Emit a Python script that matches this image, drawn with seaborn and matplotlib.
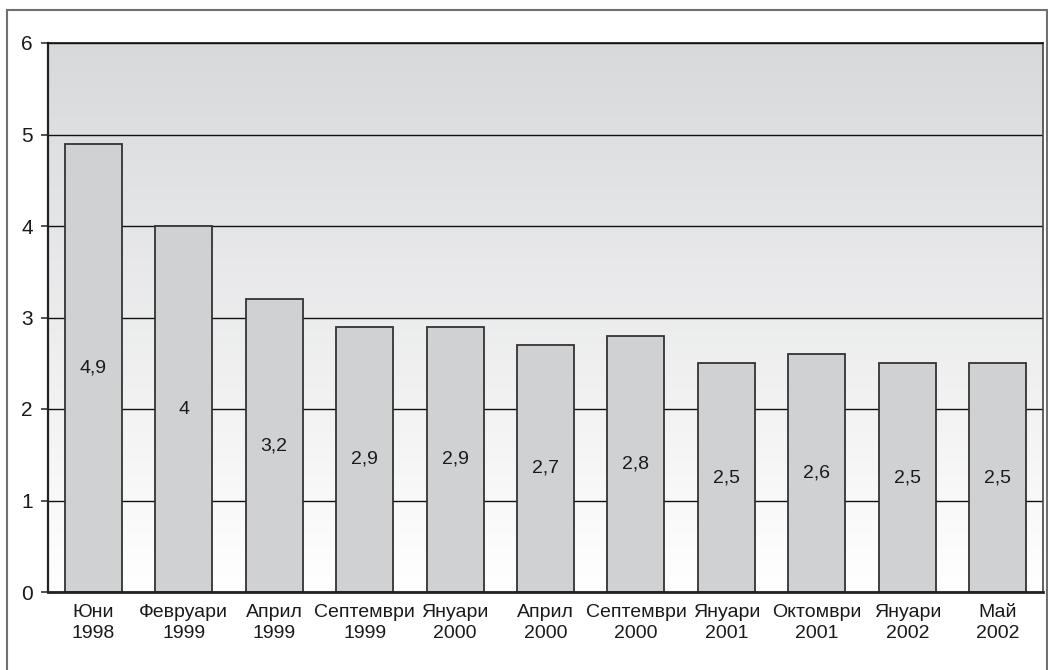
import numpy as np
import matplotlib
matplotlib.use("Agg")
import matplotlib.pyplot as plt
from matplotlib.patches import Rectangle
import seaborn as sns

# Survey periods and measured values
months = ["Юни", "Февруари", "Април", "Септември", "Януари", "Април",
          "Септември", "Януари", "Октомври", "Януари", "Май"]
years = ["1998", "1999", "1999", "1999", "2000", "2000",
         "2000", "2001", "2001", "2002", "2002"]
values = [4.9, 4.0, 3.2, 2.9, 2.9, 2.7, 2.8, 2.5, 2.6, 2.5, 2.5]
value_labels = ["4,9", "4", "3,2", "2,9", "2,9", "2,7", "2,8", "2,5", "2,6", "2,5", "2,5"]
yticks = [0, 1, 2, 3, 4, 5, 6]

categories = [f"{m}\n{y}" for m, y in zip(months, years)]

sns.set_style("white")
plt.rcParams["font.family"] = ["Liberation Sans", "DejaVu Sans"]

fig = plt.figure(figsize=(10.48, 6.70), dpi=100)
ax = fig.add_axes([48 / 1048, 1 - 592 / 670, (1043 - 48) / 1048, (592 - 43) / 670])

# Vertical grey-to-white gradient behind the plot
grad = np.linspace(0, 1, 256).reshape(-1, 1)
ax.imshow(grad, extent=[-0.5, len(values) - 0.5, 0, 6], aspect="auto",
          cmap=matplotlib.colors.LinearSegmentedColormap.from_list(
              "bg", ["#ffffff", "#d8d9db"]),
          origin="lower", zorder=0, interpolation="bilinear")

sns.barplot(x=categories, y=values, color="#d0d1d3", edgecolor="#333333",
            linewidth=1.3, width=0.63, saturation=1, ax=ax, zorder=2)

for i, (v, lab) in enumerate(zip(values, value_labels)):
    ax.text(i, v / 2, lab, ha="center", va="center", fontsize=14, color="#1a1a1a", zorder=3)

ax.set_xlim(-0.5, len(values) - 0.5)
ax.set_ylim(0, 6)
ax.set_yticks(yticks)
ax.set_yticklabels([str(t) for t in yticks])
ax.yaxis.grid(True, color="#111111", linewidth=1.0, zorder=1)
ax.set_axisbelow(True)
ax.set_xlabel("")
ax.set_ylabel("")

ax.tick_params(axis="y", which="both", left=True, length=5, width=1.2,
               color="#333333", pad=6, labelsize=15, labelcolor="#1a1a1a")
ax.tick_params(axis="x", bottom=False, pad=5, labelsize=14, labelcolor="#1a1a1a")
for lbl in ax.get_xticklabels():
    lbl.set_linespacing(1.35)

ax.spines["left"].set_color("#222222")
ax.spines["left"].set_linewidth(1.6)
ax.spines["bottom"].set_color("#222222")
ax.spines["bottom"].set_linewidth(2.0)
ax.spines["top"].set_color("#111111")
ax.spines["top"].set_linewidth(1.2)
ax.spines["right"].set_color("#444444")
ax.spines["right"].set_linewidth(1.2)

# Frame around the whole figure
fig.patches.append(Rectangle((7 / 1048, -0.05), (1047 - 7) / 1048, 1.05 - 10 / 670,
                             transform=fig.transFigure, fill=False,
                             edgecolor="#707070", linewidth=1.5))

fig.savefig("out.png", dpi=100)
